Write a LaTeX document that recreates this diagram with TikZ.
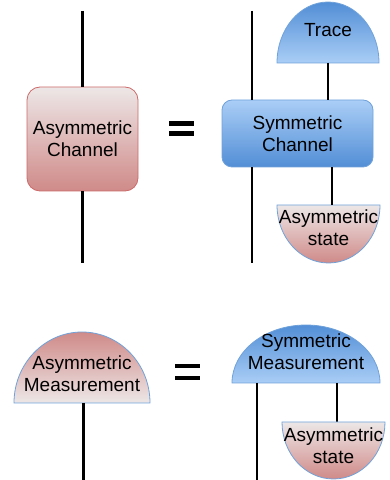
\documentclass[tikz,border=0pt]{standalone}
\usepackage{fontspec}
\setmainfont{Liberation Sans}
\definecolor{redlight}{RGB}{237,231,231}
\definecolor{reddark}{RGB}{207,138,136}
\definecolor{redborder}{RGB}{205,105,105}
\definecolor{bluelight}{RGB}{170,206,246}
\definecolor{bluedark}{RGB}{82,142,214}
\definecolor{blueborder}{RGB}{112,162,218}
\begin{document}
\begin{tikzpicture}[x=1pt,y=1pt,
  wire/.style={line width=2.4pt,black},
  lbl/.style={align=center,inner sep=0pt,font=\fontsize{19}{22}\selectfont},
  redbox/.style={draw=redborder,line width=0.8pt,rounded corners=13pt,top color=redlight,bottom color=reddark},
  bluebox/.style={draw=blueborder,line width=0.8pt,rounded corners=10pt,top color=bluelight,bottom color=bluedark},
  bluedome/.style={draw=blueborder,line width=0.8pt,top color=bluedark,bottom color=bluelight},
  reddomeup/.style={draw=blueborder,line width=0.8pt,top color=reddark,bottom color=redlight},
  reddomedown/.style={draw=blueborder,line width=0.8pt,top color=redlight,bottom color=reddark},
  eqbar/.style={fill=black}]
\useasboundingbox (0,0) rectangle (389,480);

% ---------- top left ----------
\node[redbox,minimum width=111pt,minimum height=104pt,lbl] (achan) at (82.5,341) {Asymmetric\\Channel};
\coordinate (tltop) at (82.5,469);
\coordinate (tlbot) at (82.5,217);
\draw[wire] (tltop) -- (achan.north);
\draw[wire] (achan.south) -- (tlbot);

% equals top
\fill[eqbar] (169,354.3) rectangle (194,358.8);
\fill[eqbar] (169,344.3) rectangle (194,348.8);

% ---------- top right ----------
\shadedraw[bluedome] (277,417) arc[start angle=180,end angle=0,x radius=51pt,y radius=61pt] -- cycle;
\node[lbl] (trace) at (328,450) {Trace};
\coordinate (traceb) at (328,417);

\node[bluebox,minimum width=151pt,minimum height=67pt,lbl] (schan) at (297.5,346.5) {Symmetric\\Channel};
\coordinate (trltop) at (252,469);
\coordinate (trlbot) at (252,217);
\draw[wire] (trltop) -- (trltop |- schan.north);
\draw[wire] (trlbot |- schan.south) -- (trlbot);
\draw[wire] (traceb) -- (traceb |- schan.north);

\shadedraw[reddomedown] (277,275) arc[start angle=180,end angle=360,x radius=51.5pt,y radius=58pt] -- cycle;
\node[lbl] (astate1) at (328.5,252) {Asymmetric\\state};
\coordinate (astate1t) at (332,275);
\draw[wire] (astate1t |- schan.south) -- (astate1t);

% ---------- bottom left ----------
\shadedraw[reddomeup] (14,77) arc[start angle=180,end angle=0,x radius=68pt,y radius=71pt] -- cycle;
\node[lbl] (ameas) at (82,106) {Asymmetric\\Measurement};
\coordinate (amb) at (83.5,77);
\coordinate (ambot) at (83.5,0);
\draw[wire] (amb) -- (ambot);

% equals bottom
\fill[eqbar] (175,111.8) rectangle (200,116.3);
\fill[eqbar] (175,99.8) rectangle (200,104.3);

% ---------- bottom right ----------
\shadedraw[bluedome] (232,97) arc[start angle=180,end angle=0,x radius=74pt,y radius=58pt] -- cycle;
\node[lbl] (smeas) at (306,128) {Symmetric\\Measurement};
\coordinate (smbl) at (257,97);
\coordinate (smblbot) at (257,0);
\coordinate (smbr) at (337,97);
\coordinate (astate2t) at (337,58);
\draw[wire] (smbl) -- (smblbot);
\draw[wire] (smbr) -- (astate2t);

\shadedraw[reddomedown] (282,58) arc[start angle=180,end angle=360,x radius=51.5pt,y radius=57pt] -- cycle;
\node[lbl] (astate2) at (333.5,34) {Asymmetric\\state};
\end{tikzpicture}
\end{document}
